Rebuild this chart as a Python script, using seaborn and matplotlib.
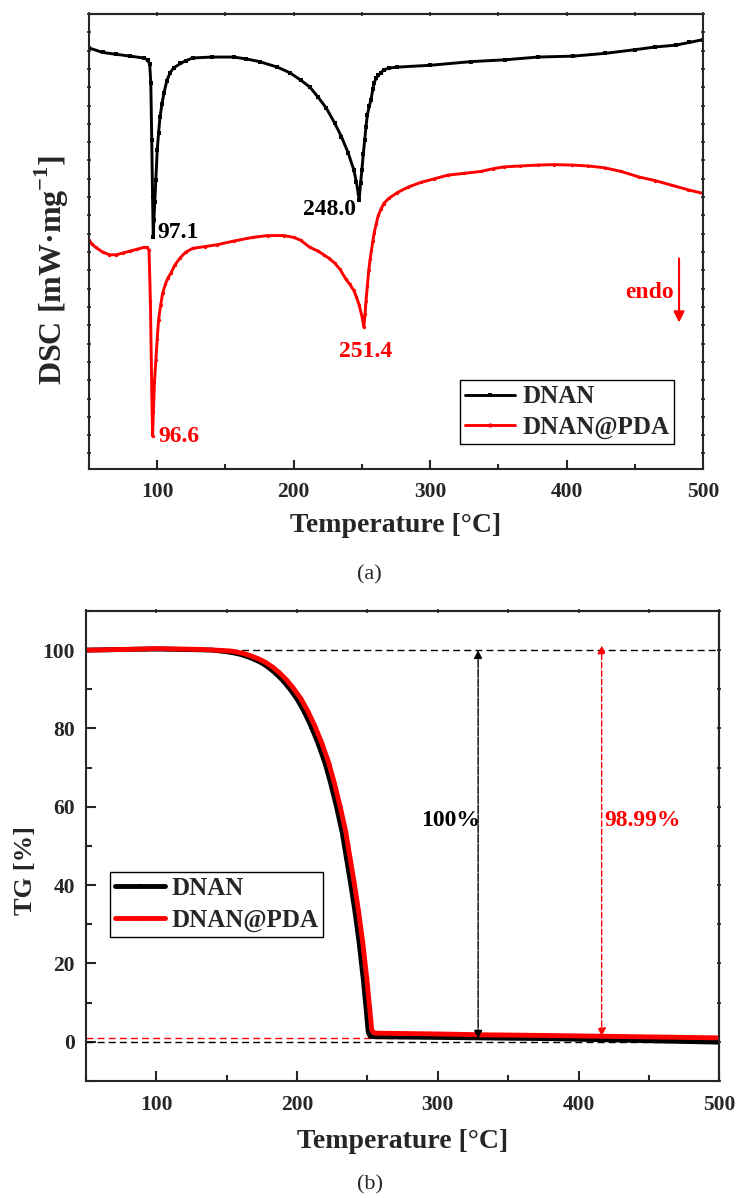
import numpy as np
import pandas as pd
import matplotlib
matplotlib.use("Agg")
import matplotlib.pyplot as plt
from matplotlib.ticker import MultipleLocator
import seaborn as sns

# ---------------- data: DSC (arbitrary heat-flow units, endo down) ----------------
dsc_dnan_T = [50, 60, 70, 80, 90, 93, 94.5, 95.3, 96, 96.6, 97.1, 97.6, 98.2, 99, 100, 101, 102,
              103.5, 105, 107, 109.5, 112, 117, 121, 126, 140, 156, 165, 175, 188, 197, 205,
              212, 218, 224, 230, 235, 240, 244, 246, 248, 249, 250, 251, 252, 253, 254, 255.5,
              256.6, 258, 259, 260.5, 262, 264, 266, 270, 276, 300, 330, 355, 379, 405, 428,
              450, 465, 480, 490, 500]
dsc_dnan_v = [-0.37, -0.42, -0.44, -0.46, -0.48, -0.50, -0.55, -0.75, -1.38, -2.00, -2.44, -2.25,
              -2.05, -1.81, -1.49, -1.30, -1.13, -0.98, -0.86, -0.73, -0.64, -0.59, -0.54, -0.51,
              -0.48, -0.47, -0.47, -0.49, -0.52, -0.58, -0.64, -0.72, -0.80, -0.91, -1.03, -1.19,
              -1.34, -1.52, -1.70, -1.84, -2.03, -1.85, -1.70, -1.53, -1.38, -1.23, -1.10, -1.00,
              -0.94, -0.82, -0.75, -0.70, -0.67, -0.64, -0.61, -0.59, -0.58, -0.56, -0.52, -0.50,
              -0.47, -0.46, -0.43, -0.39, -0.36, -0.34, -0.31, -0.28]

dsc_pda_T = [50, 52, 55, 60, 65, 70, 75, 80, 85, 90, 92.5, 94, 95, 96, 96.6, 97.2, 98, 99, 100,
             101, 102.5, 104, 106, 108, 110, 113, 117, 121, 126, 135, 144, 156, 170, 181, 193,
             200, 205, 212, 218, 222, 226, 230, 234, 238, 241, 244, 246, 248, 250, 251.4, 252.3,
             253, 254, 255, 256, 257, 258, 259, 260.5, 262, 264, 266, 270, 276, 284, 293, 303,
             313, 325, 337, 346, 354, 366, 379, 391, 404, 416, 428, 440, 453, 465, 477, 489, 500]
dsc_pda_v = [-2.47, -2.51, -2.55, -2.60, -2.63, -2.63, -2.61, -2.59, -2.57, -2.55, -2.55, -2.58,
             -3.13, -4.11, -4.61, -4.35, -4.02, -3.78, -3.55, -3.34, -3.18, -3.05, -2.95, -2.88,
             -2.83, -2.74, -2.66, -2.60, -2.56, -2.54, -2.52, -2.48, -2.44, -2.42, -2.42, -2.44,
             -2.47, -2.55, -2.59, -2.63, -2.67, -2.72, -2.79, -2.89, -2.95, -3.02, -3.09, -3.18,
             -3.30, -3.42, -3.28, -3.13, -2.97, -2.80, -2.68, -2.58, -2.48, -2.39, -2.29, -2.20,
             -2.13, -2.07, -2.01, -1.95, -1.89, -1.84, -1.80, -1.76, -1.74, -1.72, -1.69, -1.67,
             -1.66, -1.65, -1.645, -1.65, -1.66, -1.68, -1.72, -1.78, -1.82, -1.87, -1.92, -1.96]

# ---------------- data: TG (%) ----------------
tg_dnan_T = [50, 80, 100, 130, 140, 150, 155, 160, 165, 170, 175, 180, 185, 190, 195, 200, 205,
             210, 215, 220, 224, 228, 232, 235, 238, 241, 244, 247, 249, 250.5, 252, 255, 280,
             330, 380, 420, 460, 500]
tg_dnan_v = [100.0, 100.2, 100.3, 100.1, 100.0, 99.6, 99.3, 98.9, 98.3, 97.6, 96.7, 95.5, 94.0,
             92.2, 90.0, 87.5, 84.3, 80.5, 76.1, 71.0, 65.8, 60.0, 53.5, 47.0, 40.5, 33.5, 25.5,
             16.0, 8.5, 2.5, 1.4, 1.3, 1.2, 1.0, 0.8, 0.5, 0.2, -0.1]
tg_pda_T = [50, 80, 100, 130, 142.5, 152.5, 157.5, 162.5, 167.5, 172.5, 177.5, 182.5, 187.5,
            192.5, 197.5, 202.5, 207.5, 212.5, 217.5, 222.5, 226.5, 230.5, 234.5, 237.5, 240.5,
            243.5, 246.5, 249.5, 251.5, 253, 254.5, 257, 300, 330, 380, 420, 460, 500]
tg_pda_v = [100.0, 100.2, 100.4, 100.2, 100.0, 99.8, 99.5, 99.1, 98.5, 97.8, 96.9, 95.7, 94.2,
            92.4, 90.2, 87.7, 84.5, 80.7, 76.3, 71.2, 66.0, 60.2, 53.7, 47.2, 40.7, 33.7, 25.7,
            16.2, 8.7, 3.0, 2.3, 2.2, 2.0, 1.8, 1.6, 1.4, 1.2, 1.0]

series_names = ["DNAN", "DNAN@PDA"]
series_colors = ["black", "red"]
dsc_peaks = ["97.1", "248.0", "96.6", "251.4"]
x_ticks = [100, 200, 300, 400, 500]
tg_ticks = [0, 20, 40, 60, 80, 100]

# ---------------- style ----------------
sns.set_theme(style="ticks")
plt.rcParams["font.family"] = ["Liberation Serif", "DejaVu Serif"]
plt.rcParams["font.weight"] = "bold"
plt.rcParams["axes.labelweight"] = "bold"
plt.rcParams["mathtext.fontset"] = "custom"
plt.rcParams["mathtext.rm"] = "Liberation Serif:bold"
plt.rcParams["mathtext.bf"] = "Liberation Serif:bold"
plt.rcParams["axes.linewidth"] = 1.5

fig = plt.figure(figsize=(7.39, 11.98), dpi=100)
ax1 = fig.add_axes([0.1204, 0.6085, 0.831, 0.3798])
ax2 = fig.add_axes([0.1164, 0.0977, 0.857, 0.3923])

# ---------------- DSC panel ----------------
sns.lineplot(x=dsc_dnan_T, y=dsc_dnan_v, ax=ax1, color=series_colors[0], linewidth=2.1,
             marker="s", markersize=2.2, markeredgewidth=0, label=series_names[0], sort=False)
sns.lineplot(x=dsc_pda_T, y=dsc_pda_v, ax=ax1, color=series_colors[1], linewidth=2.1,
             marker="o", markersize=2.4, markeredgewidth=0, label=series_names[1], sort=False)
ax1.set_xlim(50, 500)
ax1.set_ylim(-4.97, 0)
ax1.set_xticks(x_ticks)
ax1.xaxis.set_minor_locator(MultipleLocator(50))
ax1.yaxis.set_major_locator(MultipleLocator(0.2))
ax1.tick_params(axis="x", which="major", direction="in", length=6.5, width=1.5,
                labelsize=15.5, pad=9)
ax1.tick_params(axis="x", which="minor", direction="in", length=3.5, width=1.5)
ax1.tick_params(axis="y", which="major", direction="inout", length=3, width=1.2,
                labelleft=False, right=True)
for lab in ax1.get_xticklabels():
    lab.set_fontweight("bold")
sec = ax1.secondary_xaxis("top")
sec.set_xticks(x_ticks)
sec.xaxis.set_minor_locator(MultipleLocator(50))
sec.tick_params(which="both", direction="inout", length=2.5, width=1.2, labeltop=False)
ax1.set_xlabel("Temperature [°C]", fontsize=20, fontweight="bold", labelpad=8)
ax1.set_ylabel("DSC [mW·mg$^{\\mathbf{-1}}$]", fontsize=23, fontweight="bold")
ax1.yaxis.set_label_coords(-0.03, 0.437)

ax1.text(100, -2.39, dsc_peaks[0], color="black", fontsize=17, fontweight="bold",
         ha="left", va="center")
ax1.text(246, -2.14, dsc_peaks[1], color="black", fontsize=17, fontweight="bold",
         ha="right", va="center")
ax1.text(100.7, -4.62, dsc_peaks[2], color="red", fontsize=17, fontweight="bold",
         ha="left", va="center")
ax1.text(253, -3.69, dsc_peaks[3], color="red", fontsize=17, fontweight="bold",
         ha="center", va="center")
ax1.text(478.5, -3.04, "endo", color="red", fontsize=17, fontweight="bold",
         ha="right", va="center")
ax1.annotate("", xy=(482.4, -3.37), xytext=(482.4, -2.67),
             arrowprops=dict(arrowstyle="-|>", color="red", lw=1.5, mutation_scale=16,
                             shrinkA=0, shrinkB=0))

leg1 = ax1.legend(loc="lower right", bbox_to_anchor=(0.953, 0.055), frameon=True,
                  fancybox=False, edgecolor="black", framealpha=1, fontsize=18,
                  handlelength=2.0, handletextpad=0.3, borderpad=0.2, labelspacing=0.3,
                  borderaxespad=0, markerscale=1.3)
leg1.get_frame().set_linewidth(1.0)
for t in leg1.get_texts():
    t.set_fontweight("bold")

# ---------------- TG panel ----------------
ax2.axhline(100, color="black", lw=1.0, ls=(0, (5, 3)), zorder=1)
ax2.axhline(0, color="black", lw=1.0, ls=(0, (5, 3)), zorder=1)
ax2.axhline(1.01, color="red", lw=1.0, ls=(0, (5, 3)), zorder=1)
sns.lineplot(x=tg_dnan_T, y=tg_dnan_v, ax=ax2, color=series_colors[0], linewidth=3.5,
             marker="s", markersize=2.5, markeredgewidth=0, label=series_names[0], sort=False)
sns.lineplot(x=tg_pda_T, y=tg_pda_v, ax=ax2, color=series_colors[1], linewidth=3.5,
             marker="o", markersize=2.5, markeredgewidth=0, label=series_names[1], sort=False)
ax2.annotate("", xy=(328.6, 100), xytext=(328.6, 0.8),
             arrowprops=dict(arrowstyle="<|-|>", color="black", lw=1.0, ls=(0, (6, 1)),
                             mutation_scale=12, shrinkA=0, shrinkB=0))
ax2.annotate("", xy=(416.4, 101.2), xytext=(416.4, 1.4),
             arrowprops=dict(arrowstyle="<|-|>", color="red", lw=1.0, ls=(0, (4, 2)),
                             mutation_scale=12, shrinkA=0, shrinkB=0))
ax2.text(330, 56.4, "100%", color="black", fontsize=17, fontweight="bold",
         ha="right", va="center")
ax2.text(418, 56.4, "98.99%", color="red", fontsize=17, fontweight="bold",
         ha="left", va="center")

ax2.set_xlim(50, 500)
ax2.set_ylim(-10, 110)
ax2.set_xticks(x_ticks)
ax2.set_yticks(tg_ticks)
ax2.xaxis.set_minor_locator(MultipleLocator(50))
ax2.yaxis.set_minor_locator(MultipleLocator(10))
ax2.tick_params(axis="both", which="major", direction="in", length=7, width=1.5,
                labelsize=15.5, pad=8)
ax2.tick_params(axis="x", which="major", pad=10)
ax2.tick_params(axis="both", which="minor", direction="in", length=4.5, width=1.5)
for lab in ax2.get_xticklabels() + ax2.get_yticklabels():
    lab.set_fontweight("bold")
sec2 = ax2.secondary_xaxis("top")
sec2.set_xticks(x_ticks)
sec2.xaxis.set_minor_locator(MultipleLocator(50))
sec2.tick_params(which="both", direction="inout", length=2.5, width=1.2, labeltop=False)
sec3 = ax2.secondary_yaxis("right")
sec3.set_yticks(tg_ticks)
sec3.yaxis.set_minor_locator(MultipleLocator(10))
sec3.tick_params(which="both", direction="inout", length=3, width=1.2, labelright=False)
ax2.set_xlabel("Temperature [°C]", fontsize=20, fontweight="bold", labelpad=10)
ax2.set_ylabel("TG [%]", fontsize=19, fontweight="bold")
ax2.yaxis.set_label_coords(-0.078, 0.447)

leg2 = ax2.legend(loc="upper left", bbox_to_anchor=(0.038, 0.445), frameon=True,
                  fancybox=False, edgecolor="black", framealpha=1, fontsize=18,
                  handlelength=2.0, handletextpad=0.25, borderpad=0.2, labelspacing=0.35,
                  borderaxespad=0)
leg2.get_frame().set_linewidth(1.0)
for t in leg2.get_texts():
    t.set_fontweight("bold")

# ---------------- captions ----------------
fig.text(0.5, 0.5205, "(a)", fontsize=16, fontweight="normal", ha="center", va="center")
fig.text(0.5, 0.011, "(b)", fontsize=16, fontweight="normal", ha="center", va="center")

fig.savefig("out.png", dpi=100)
